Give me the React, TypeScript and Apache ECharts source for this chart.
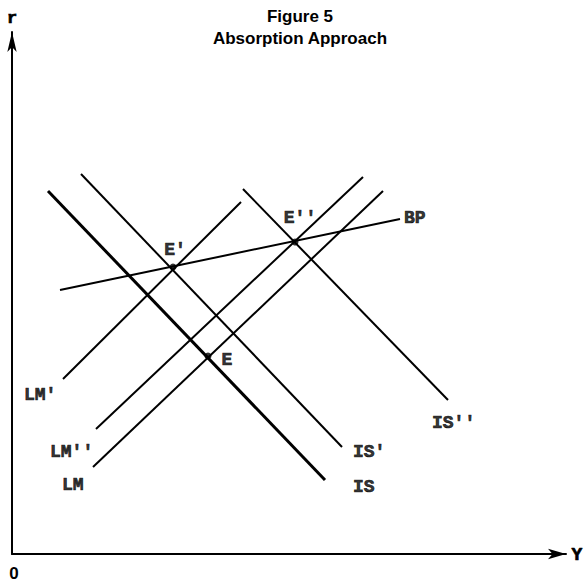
import React, { useEffect, useRef } from "react";
import * as echarts from "echarts";

// Curves (x = income Y, y = interest rate r)
const IS = [[36, 363], [313, 74]];
const IS1 = [[69, 380], [330, 107]];
const IS2 = [[231, 365], [436, 154]];
const LM = [[81, 87], [371, 363]];
const LM2 = [[84, 125], [351, 377]];
const LM1 = [[51, 175], [229, 352]];
const BP = [[48, 264], [388, 335]];

// Equilibria
const eqPoints = [[196, 198], [161, 287], [283, 312]];

// Labels
const curveLabels = [
  { name: "IS", value: [341, 67] },
  { name: "IS'", value: [341, 102] },
  { name: "IS''", value: [420, 131] },
  { name: "LM", value: [50, 69] },
  { name: "LM''", value: [38, 102] },
  { name: "LM'", value: [12, 159] },
  { name: "BP", value: [392, 336] },
];
const pointLabels = [
  { name: "E", value: [215, 194] },
  { name: "E'", value: [163, 304] },
  { name: "E''", value: [288, 336] },
];

const labelFont = {
  fontFamily: "Liberation Mono",
  fontWeight: "bold" as const,
  fontSize: 18,
  color: "#000",
  textBorderColor: "#000",
  textBorderWidth: 0.7,
};

export default function App() {
  const ref = useRef<HTMLDivElement>(null);
  useEffect(() => {
    if (!ref.current) return;
    const chart = echarts.init(ref.current, null, { renderer: "svg" });
    const lineSeries = (data: number[][], width: number) => ({
      type: "line",
      data,
      symbol: "none",
      lineStyle: { color: "#000", width },
      silent: true,
    });
    const gText = (text: string, x: number, y: number, extra: any) => ({
      type: "text",
      x,
      y,
      style: {
        text,
        fill: "#000",
        textAlign: "center",
        textVerticalAlign: "middle",
        ...extra,
      },
    });
    const titleFont = { fontFamily: "Liberation Sans", fontWeight: "bold", fontSize: 17 };
    chart.setOption({
      animation: false,
      backgroundColor: "#fff",
      grid: { left: 12, right: 19, top: 32, bottom: 29 },
      xAxis: {
        type: "value",
        min: 0,
        max: 554,
        axisLine: {
          show: true,
          lineStyle: { color: "#000", width: 2 },
          symbol: ["none", "arrow"],
          symbolSize: [8, 18],
        },
        axisTick: { show: false },
        axisLabel: { show: false },
        splitLine: { show: false },
      },
      yAxis: {
        type: "value",
        min: 0,
        max: 522,
        axisLine: {
          show: true,
          lineStyle: { color: "#000", width: 2 },
          symbol: ["none", "arrow"],
          symbolSize: [7, 20],
        },
        axisTick: { show: false },
        axisLabel: { show: false },
        splitLine: { show: false },
      },
      graphic: [
        gText("Figure 5", 300, 16, titleFont),
        gText("Absorption Approach", 300, 38, titleFont),
        gText("r", 12, 18, {
          fontFamily: "Liberation Mono",
          fontWeight: "bold",
          fontSize: 17,
          stroke: "#000",
          lineWidth: 0.7,
        }),
        gText("Y", 577, 555, {
          fontFamily: "Liberation Mono",
          fontWeight: "bold",
          fontSize: 18,
          stroke: "#000",
          lineWidth: 0.7,
        }),
        gText("0", 14, 573, { fontFamily: "Liberation Sans", fontWeight: "bold", fontSize: 17 }),
      ],
      series: [
        lineSeries(IS, 3),
        lineSeries(IS1, 2),
        lineSeries(IS2, 2),
        lineSeries(LM, 2),
        lineSeries(LM2, 2),
        lineSeries(LM1, 2),
        lineSeries(BP, 2),
        {
          type: "scatter",
          data: eqPoints,
          symbol: "circle",
          symbolSize: 7,
          itemStyle: { color: "#000" },
          silent: true,
        },
        {
          type: "scatter",
          data: curveLabels,
          symbolSize: 0,
          silent: true,
          label: {
            show: true,
            position: "right",
            distance: 0,
            formatter: "{b}",
            ...labelFont,
          },
        },
        {
          type: "scatter",
          data: pointLabels,
          symbolSize: 0,
          silent: true,
          label: {
            show: true,
            position: "inside",
            formatter: "{b}",
            ...labelFont,
          },
        },
      ],
    });
    return () => chart.dispose();
  }, []);
  return (
    <div
      ref={ref}
      style={{ position: "fixed", left: 0, top: 0, width: 585, height: 583, background: "#fff" }}
    />
  );
}
